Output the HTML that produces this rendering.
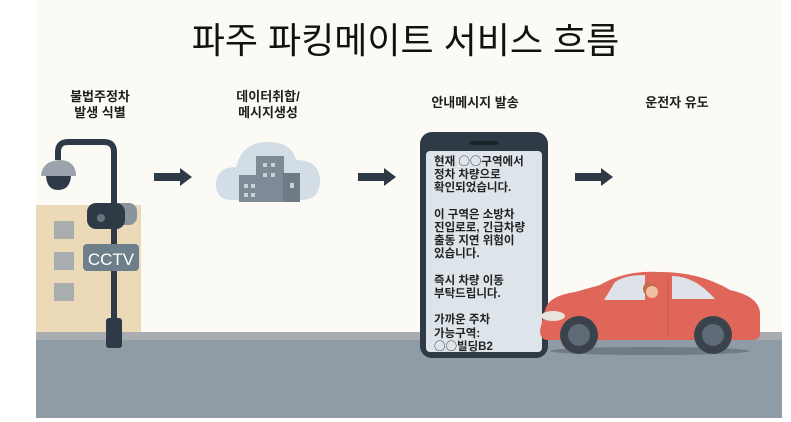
<!DOCTYPE html>
<html><head><meta charset="utf-8"><style>
body{margin:0;width:791px;height:422px;background:#fff;position:relative;overflow:hidden;font-family:"Liberation Sans","Noto Sans CJK KR",sans-serif}
.a{position:absolute}
.lbl{position:absolute;font-size:13px;font-weight:bold;color:#1e1e1e;text-align:center;line-height:16px}
.c{font-family:"Noto Sans CJK KR",sans-serif;font-weight:normal;line-height:0}
</style></head><body>
<div class="a" style="left:36px;top:0;width:746px;height:418px;background:#fcfaf5"></div>
<div class="a" style="left:0;top:12px;width:811px;text-align:center;font-size:36px;color:#111">파주 파킹메이트 서비스 흐름</div>
<div class="lbl" style="left:50px;top:89px;width:100px">불법주정차<br>발생 식별</div>
<div class="lbl" style="left:218px;top:89px;width:100px">데이터취합/<br>메시지생성</div>
<div class="lbl" style="left:415px;top:95px;width:120px">안내메시지 발송</div>
<div class="lbl" style="left:627px;top:95px;width:100px">운전자 유도</div>
<svg class="a" style="left:0;top:0" width="791" height="422">
<rect x="36" y="205" width="105" height="128" fill="#ecd9b8"/>
<rect x="54" y="221" width="20" height="18" fill="#a9adb0"/>
<rect x="54" y="252" width="20" height="18" fill="#a9adb0"/>
<rect x="54" y="283" width="20" height="18" fill="#a9adb0"/>
<rect x="36" y="332" width="746" height="9" fill="#a9acb0"/>
<rect x="36" y="340" width="746" height="78" fill="#8f9ba5"/>
<path d="M114 340 V152 Q114 142 104 142 H68 Q58 142 58 152 V160" fill="none" stroke="#2e3a46" stroke-width="6"/>
<path d="M41 176 Q42 160 62 160 Q76 162 76 176 Z" fill="#9aa3ab"/>
<path d="M46 176 H71 Q70 190 58 190 Q47 190 46 176Z" fill="#2e3a46"/>
<rect x="106" y="318" width="16" height="30" rx="3" fill="#2e3a46"/>
<rect x="100" y="203" width="37" height="22" rx="8" fill="#8a949d"/>
<rect x="87" y="203" width="38" height="26" rx="9" fill="#2e3a46"/>
<circle cx="101" cy="218" r="4" fill="#6b747c"/>
<rect x="83" y="244" width="56" height="27" rx="4" fill="#6e7f8c"/>
<text x="111" y="265" font-size="17" fill="#fff" text-anchor="middle" font-family="Liberation Sans,sans-serif">CCTV</text>
<g fill="#2e3a46"><rect x="154" y="173" width="28" height="8"/><path d="M180 168 L192 177 L180 186Z"/>
<rect x="358" y="173" width="28" height="8"/><path d="M384 168 L396 177 L384 186Z"/>
<rect x="575" y="173" width="28" height="8"/><path d="M601 168 L613 177 L601 186Z"/></g>
<path d="M232 200 Q215 200 216 182 Q218 167 236 167 Q242 142 268 142 Q292 142 296 160 Q320 160 320 181 Q320 200 300 200Z" fill="#d3dde5"/>
<rect x="256" y="156" width="28" height="46" fill="#7e8a95"/>
<rect x="239" y="175" width="20" height="27" fill="#7e8a95"/>
<rect x="283" y="173" width="17" height="29" fill="#6e7a85"/>
<g fill="#c9d1d8"><rect x="263" y="163" width="4" height="4"/><rect x="271" y="163" width="4" height="4"/><rect x="263" y="173" width="4" height="4"/><rect x="271" y="173" width="4" height="4"/><rect x="244" y="184" width="4" height="4"/><rect x="251" y="184" width="4" height="4"/><rect x="244" y="193" width="4" height="4"/><rect x="251" y="193" width="4" height="4"/><rect x="290" y="183" width="4" height="5"/></g>
<rect x="420" y="132" width="128" height="226" rx="12" fill="#2e3a46"/>
<rect x="426" y="151" width="116" height="201" rx="4" fill="#dde4ea"/>
<rect x="470" y="141" width="28" height="4" rx="2" fill="#1b232b"/>
<ellipse cx="650" cy="351" rx="100" ry="4" fill="#707b85"/>
<path d="M545 310 Q548 296 575 292 L600 285 Q625 270 660 272 Q700 272 730 290 Q758 296 760 312 L760 334 Q760 340 752 340 H548 Q540 340 540 330Z" fill="#e0665a"/>
<path d="M604 300 L615 282 Q625 275 645 275 L645 300Z" fill="#dde3e8"/>
<path d="M672 276 Q695 276 715 299 L672 299Z" fill="#dde3e8"/>
<circle cx="650" cy="289" r="7" fill="#c86a4c"/><circle cx="652" cy="292" r="6" fill="#f0c0a0"/>
<line x1="668" y1="278" x2="668" y2="336" stroke="#c8554a"/>
<ellipse cx="553" cy="316" rx="12" ry="5" fill="#e8e4de"/>
<circle cx="579" cy="335" r="19" fill="#3a434c"/><circle cx="579" cy="335" r="11" fill="#5e6a76"/>
<circle cx="713" cy="335" r="19" fill="#3a434c"/><circle cx="713" cy="335" r="11" fill="#5e6a76"/>
</svg>
<div class="a" style="left:434px;top:156px;font-size:11.5px;font-weight:bold;line-height:13.2px;color:#222">현재 <span class="c">○○</span>구역에서<br>정차 차량으로<br>확인되었습니다.<br><br>이 구역은 소방차<br>진입로로, 긴급차량<br>출동 지연 위험이<br>있습니다.<br><br>즉시 차량 이동<br>부탁드립니다.<br><br>가까운 주차<br>가능구역:<br><span class="c">○○</span>빌딩B2</div>
</body></html>
